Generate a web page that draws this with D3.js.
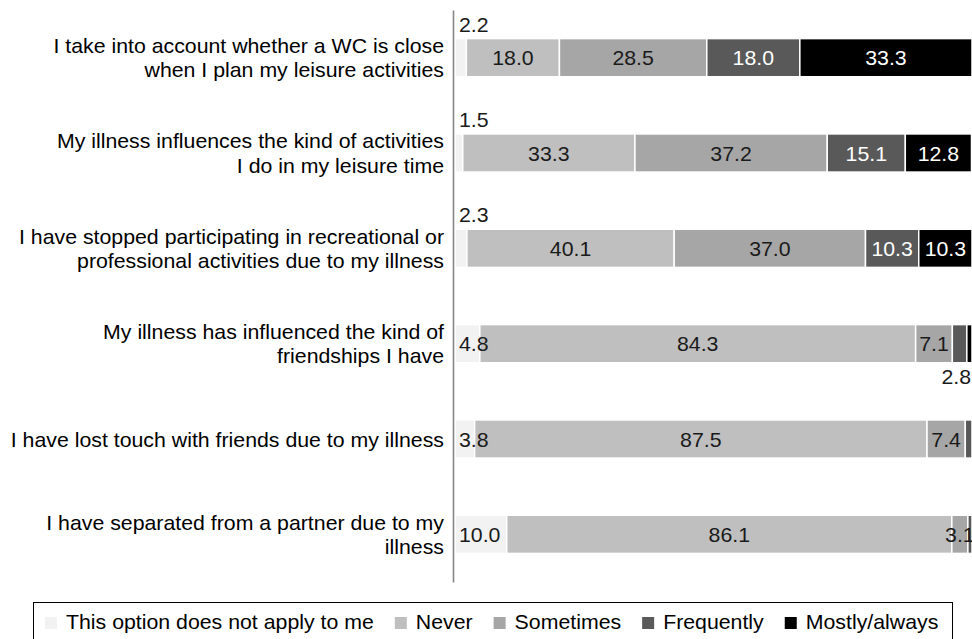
<!DOCTYPE html>
<html>
<head>
<meta charset="utf-8">
<script src="https://cdn.jsdelivr.net/npm/d3@7"></script>
<style>
  html, body { margin: 0; padding: 0; background: #fff; }
  svg { display: block; }
  text { font-family: "Liberation Sans", Arial, sans-serif; }
</style>
</head>
<body>
<svg id="chart" width="972" height="639"></svg>
<script>
const categories = [
  "I take into account whether a WC is close\nwhen I plan my leisure activities",
  "My illness influences the kind of activities\nI do in my leisure time",
  "I have stopped participating in recreational or\nprofessional activities due to my illness",
  "My illness has influenced the kind of\nfriendships I have",
  "I have lost touch with friends due to my illness",
  "I have separated from a partner due to my\nillness"
];
const seriesNames = ["This option does not apply to me", "Never", "Sometimes", "Frequently", "Mostly/always"];
const notApplicable = [2.2, 1.5, 2.3, 4.8, 3.8, 10.0];
const never        = [18.0, 33.3, 40.1, 84.3, 87.5, 86.1];
const sometimes    = [28.5, 37.2, 37.0, 7.1, 7.4, 3.1];
const frequently   = [18.0, 15.1, 10.3, 2.8, 1.3, 0.8];
const mostlyAlways = [33.3, 12.8, 10.3, 1.0, 0.0, 0.0];
const seriesColors = ["#f2f2f2", "#bfbfbf", "#a6a6a6", "#595959", "#000000"];

const seriesValues = [notApplicable, never, sometimes, frequently, mostlyAlways];
const FS = 20, SX = 1.065;

const svg = d3.select("#chart");
const x = d3.scaleLinear().domain([0, 100]).range([455, 972]);
const y = d3.scaleBand().domain(categories).range([10, 582]).paddingInner(0.6).paddingOuter(0.3);

const rows = categories.map((c, i) => {
  const o = { cat: c };
  seriesNames.forEach((s, j) => o[s] = seriesValues[j][i]);
  return o;
});
const stacked = d3.stack().keys(seriesNames)(rows);

// bars
const layers = svg.append("g").selectAll("g").data(stacked).join("g")
  .attr("fill", (d, i) => seriesColors[i]);
layers.selectAll("rect").data(d => d.map(p => ({ p, cat: p.data.cat }))).join("rect")
  .attr("x", d => x(d.p[0]))
  .attr("y", d => y(d.cat))
  .attr("width", d => Math.max(0, x(d.p[1]) - x(d.p[0])))
  .attr("height", y.bandwidth())
  .attr("stroke", "#ffffff")
  .attr("stroke-width", 1.5);

// value labels
const lbl = svg.append("g");
stacked.forEach((layer, si) => {
  layer.forEach(p => {
    const v = p[1] - p[0];
    const cat = p.data.cat;
    const top = y(cat), bot = top + y.bandwidth(), mid = top + y.bandwidth() / 2;
    let tx, ty, anchor = "middle", fill = si >= 3 ? "#ffffff" : "#1a1a1a", outside = false;
    if (si === 0) {
      anchor = "start";
      tx = x(p[0]) + 4;
      if (v < 3) { ty = top - 7; fill = "#1a1a1a"; } else { ty = mid + 7.5; }
    } else if (v >= 3) {
      tx = (x(p[0]) + x(p[1])) / 2; ty = mid + 7.5;
    } else if (v >= 2) {
      tx = (x(p[0]) + x(p[1])) / 2; ty = bot + 21; fill = "#1a1a1a"; outside = true;
    } else return;
    const t = lbl.append("text")
      .attr("text-anchor", anchor)
      .attr("font-size", FS)
      .attr("fill", fill)
      .text(d3.format(".1f")(v));
    if (outside) {
      const hw = t.node().getComputedTextLength() * SX / 2;
      tx = Math.min(tx, 971 - hw);
    }
    t.attr("transform", `translate(${tx},${ty}) scale(${SX},1)`);
  });
});

// category axis
const axis = svg.append("g").attr("transform", "translate(453,0)")
  .call(d3.axisLeft(y).tickSize(0).tickSizeOuter(0).tickFormat(""));
axis.select(".domain").attr("stroke", "#868686").attr("stroke-width", 1.6);
axis.selectAll(".tick").each(function(c) {
  const lines = c.split("\n");
  const lh = 24.5;
  const t = d3.select(this).append("text")
    .attr("transform", `translate(-9,0) scale(${SX},1)`)
    .attr("text-anchor", "end")
    .attr("font-size", FS)
    .attr("fill", "#000");
  const first = 7.5 - (lines.length - 1) * lh / 2;
  lines.forEach((ln, k) => {
    t.append("tspan").attr("x", 0).attr("y", first + k * lh).text(ln);
  });
});

// legend
const lg = svg.append("g");
lg.append("rect").attr("x", 33.5).attr("y", 602.5).attr("width", 919).attr("height", 50)
  .attr("fill", "#fff").attr("stroke", "#000").attr("stroke-width", 1);
let lx = 45;
seriesNames.forEach((s, i) => {
  lg.append("rect").attr("x", lx).attr("y", 617).attr("width", 12).attr("height", 12)
    .attr("fill", seriesColors[i]);
  const t = lg.append("text")
    .attr("transform", `translate(${lx + 21},629) scale(${SX},1)`)
    .attr("font-size", FS).attr("fill", "#000").text(s);
  const w = t.node().getComputedTextLength() * SX;
  lx = lx + 21 + w + 21;
});
</script>
</body>
</html>
